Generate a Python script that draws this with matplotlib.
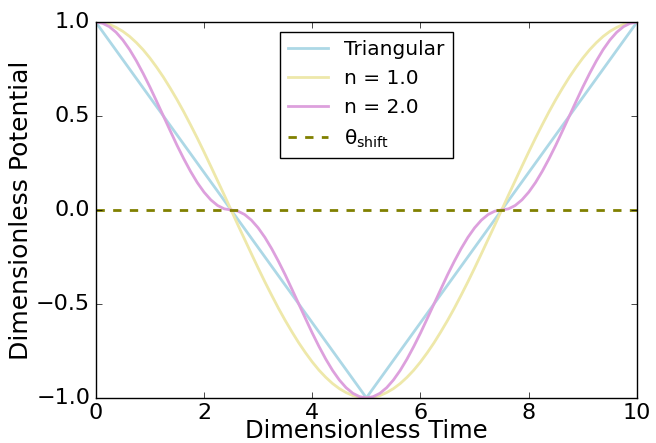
import matplotlib
matplotlib.use("Agg")
import matplotlib.pyplot as plt

plt.style.use('classic')
plt.rcParams['mathtext.fontset'] = 'dejavusans'

# time points (dimensionless)
t = [i * 0.125 for i in range(81)]

# triangular wave corners
tri_t = [0.0, 5.0, 10.0]
tri_v = [1.0, -1.0, 1.0]

# n = 1.0 curve (first half, then mirrored)
half_n1 = [1.000, 0.997, 0.988, 0.972, 0.951, 0.924, 0.891, 0.853, 0.809, 0.760,
           0.707, 0.649, 0.588, 0.523, 0.454, 0.383, 0.309, 0.233, 0.156, 0.079,
           0.000,
           -0.079, -0.156, -0.233, -0.309, -0.383, -0.454, -0.523, -0.588, -0.649,
           -0.707, -0.760, -0.809, -0.853, -0.891, -0.924, -0.951, -0.972, -0.988,
           -0.997, -1.000]
n1 = half_n1 + half_n1[-2::-1]

# n = 2.0 curve (first half, then mirrored)
half_n2 = [1.000, 0.994, 0.976, 0.946, 0.905, 0.854, 0.794, 0.727, 0.655, 0.578,
           0.500, 0.422, 0.345, 0.273, 0.206, 0.146, 0.095, 0.054, 0.024, 0.006,
           0.000,
           -0.006, -0.024, -0.054, -0.095, -0.146, -0.206, -0.273, -0.345, -0.422,
           -0.500, -0.578, -0.655, -0.727, -0.794, -0.854, -0.905, -0.946, -0.976,
           -0.994, -1.000]
n2 = half_n2 + half_n2[-2::-1]

theta_shift = 0.0

fig = plt.figure(figsize=(6.56, 4.43), dpi=100, facecolor='white')
ax = fig.add_axes([0.146, 0.102, 0.825, 0.848])

ax.plot(tri_t, tri_v, color='lightblue', lw=2, label='Triangular')
ax.plot(t, n1, color='palegoldenrod', lw=2, label='n = 1.0')
ax.plot(t, n2, color='plum', lw=2, label='n = 2.0')
ax.axhline(theta_shift, color='olive', lw=2, ls='--', label='\u03b8$_{\\mathrm{shift}}$')

ax.set_xlim(0, 10)
ax.set_ylim(-1, 1)
ax.set_xticks([0, 2, 4, 6, 8, 10])
ax.set_yticks([-1.0, -0.5, 0.0, 0.5, 1.0])
ax.set_yticklabels(['\u22121.0', '\u22120.5', '0.0', '0.5', '1.0'])
ax.tick_params(labelsize=16)
ax.set_xlabel('Dimensionless Time', fontsize=17.5, labelpad=-3)
ax.set_ylabel('Dimensionless Potential', fontsize=18, labelpad=2)

leg = ax.legend(loc='upper center', fontsize=14.5, numpoints=1)

fig.savefig('out.png', dpi=100, facecolor='white')
